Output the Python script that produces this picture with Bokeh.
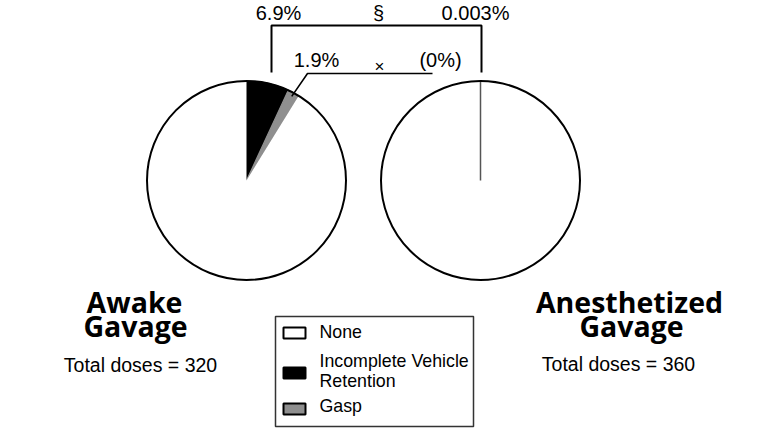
import numpy as np
from bokeh.plotting import figure
from bokeh.models import Range1d
from bokeh.core.properties import value
from bokeh.embed import file_html
from bokeh.resources import INLINE

# ---------------- data ----------------
categories = ["None", "Incomplete Vehicle Retention", "Gasp"]
awake_values = [91.2, 6.9, 1.9]          # % of doses
anesth_values = [99.997, 0.003, 0.0]     # % of doses
group_titles = [["Awake", "Gavage"], ["Anesthetized", "Gavage"]]
total_doses = [320, 360]
ivr_labels = ["6.9%", "0.003%"]
gasp_labels = ["1.9%", "(0%)"]
sig_marks = ["§", "×"]
legend_labels = [["None"], ["Incomplete Vehicle", "Retention"], ["Gasp"]]

# ---------------- style ----------------
fill = {"None": "white", "Incomplete Vehicle Retention": "black", "Gasp": "#8f8f8f"}
ARIAL = value("Liberation Sans")
BOLD = value("Open Sans")
DY = 8  # text baseline correction

p = figure(width=784, height=430, x_range=Range1d(0, 784), y_range=Range1d(-430, 0),
           output_backend="svg", toolbar_location=None, min_border=0,
           x_axis_type=None, y_axis_type=None)
p.grid.visible = False
p.outline_line_color = None

R = 99.5
centers = [(246, -180), (480, -180)]
order = [1, 2, 0]  # draw IVR, then Gasp, then None clockwise from 12 o'clock


def draw_pie(cx, cy, vals):
    v = np.array([vals[i] for i in order], dtype=float)
    f = v / v.sum()
    cum = np.cumsum(f)
    starts = np.pi / 2 - 2 * np.pi * (cum - f)
    ends = np.pi / 2 - 2 * np.pi * cum
    slivers = []
    for k, i in enumerate(order):
        if v[k] <= 0:
            continue
        cat = categories[i]
        if cat == "None":
            p.wedge(x=cx, y=cy, radius=R, start_angle=starts[k], end_angle=ends[k],
                    direction="clock", fill_color=fill[cat], line_color=None)
        elif f[k] < 0.003:
            slivers.append((starts[k] + ends[k]) / 2)
        else:
            p.wedge(x=cx, y=cy, radius=R, start_angle=starts[k], end_angle=ends[k],
                    direction="clock", fill_color=fill[cat], line_color=fill[cat],
                    line_width=1.2)
    # slivers too thin to fill: draw as a ray from the centre, on top
    for mid in slivers:
        p.segment(x0=cx, y0=cy, x1=cx + R * np.cos(mid), y1=cy + R * np.sin(mid),
                  line_color="#555555", line_width=1.5)
    p.circle(x=cx, y=cy, radius=R, fill_color=None, line_color="black", line_width=2)
    return starts, ends


s_aw, e_aw = draw_pie(*centers[0], awake_values)
draw_pie(*centers[1], anesth_values)

# ---------------- significance brackets ----------------
p.line(x=[271, 271, 481, 481], y=[-72, -25, -25, -72], line_color="black", line_width=2)
gmid = (s_aw[1] + e_aw[1]) / 2
gx = centers[0][0] + 0.96 * R * np.cos(gmid)
gy = centers[0][1] + 0.96 * R * np.sin(gmid)
p.line(x=[432, 307, gx], y=[-73, -73, gy], line_color="black", line_width=1.6)

p.text(x=[278, 475], y=[-20 + DY] * 2, text=ivr_labels, text_font=ARIAL,
       text_font_size="20px", text_align="center", text_baseline="alphabetic")
p.text(x=[378], y=[-20 + DY], text=[sig_marks[0]], text_font=ARIAL,
       text_font_size="20px", text_align="center", text_baseline="alphabetic")
p.text(x=[316, 440], y=[-67 + DY] * 2, text=gasp_labels, text_font=ARIAL,
       text_font_size="20px", text_align="center", text_baseline="alphabetic")
p.text(x=[379], y=[-66], text=[sig_marks[1]], text_font=ARIAL,
       text_font_size="17px", text_align="center", text_baseline="middle")

# ---------------- group titles ----------------
title_x = [[134, 135], [629, 631]]
title_y = [-309 + DY, -333 + DY]
for g in range(2):
    for j, t in enumerate(group_titles[g]):
        p.text(x=[title_x[g][j]], y=[title_y[j]], text=[t], text_font=BOLD,
               text_font_style="bold", text_font_size="28.5px",
               text_align="center", text_baseline="alphabetic")
p.text(x=[140, 618], y=[-372 + DY, -371 + DY],
       text=[f"Total doses = {n}" for n in total_doses],
       text_font=ARIAL, text_font_size="19.5px", text_align="center",
       text_baseline="alphabetic")

# ---------------- legend ----------------
p.quad(left=[275], right=[473], top=[-316], bottom=[-426], fill_color="white",
       line_color="#333333", line_width=1.5)
sw_top = [-327, -367, -403]
for k in range(3):
    cat = categories[k]
    p.quad(left=[283], right=[305], top=[sw_top[k]], bottom=[sw_top[k] - 11],
           fill_color=fill[cat], line_color="black", line_width=2)
txt_y = [[-339 + DY], [-368 + DY, -388 + DY], [-413 + DY]]
for k in range(3):
    p.text(x=[319] * len(legend_labels[k]), y=txt_y[k], text=legend_labels[k],
           text_font=ARIAL, text_font_size="17.8px", text_align="left",
           text_baseline="alphabetic")

open("out.html", "w").write(file_html(p, INLINE))
